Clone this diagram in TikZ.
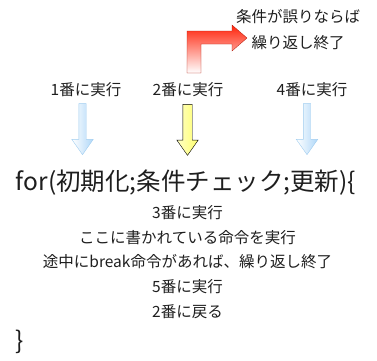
\documentclass[tikz,border=0pt]{standalone}
\usepackage{fontspec}
\setmainfont{Noto Sans CJK JP}
\usepackage{tikz}
\usetikzlibrary{shapes.arrows,positioning}
\definecolor{texteGris}{RGB}{30,30,30}
\definecolor{bleuFleche}{RGB}{175,215,248}
\definecolor{bleuBord}{RGB}{160,205,240}
\definecolor{jauneFleche}{RGB}{255,255,110}
\definecolor{rougeFleche}{RGB}{255,35,10}

\begin{document}
\begin{tikzpicture}[x=1pt,y=-1pt,font=\fontsize{15.5}{18}\selectfont,text=texteGris,
  etiquette/.style={inner sep=0pt},
  fleche/.style={single arrow,shape border rotate=270,inner sep=3.5pt,
                 minimum width=21pt,minimum height=51pt,single arrow tip angle=70,
                 single arrow head extend=7pt},
  flecheBleue/.style={fleche,draw=bleuBord,left color=white,right color=bleuFleche},
  flecheJaune/.style={fleche,inner sep=4.5pt,single arrow head extend=6pt,draw=black,
                      left color=white!60!jauneFleche,right color=jauneFleche}]

  \useasboundingbox (0,0) rectangle (377,360);

  % libelles du haut
  \node[etiquette] (L1) at (86,90) {1番に実行};
  \node[etiquette] (L2) at (188,90) {2番に実行};
  \node[etiquette] (L4) at (312,90) {4番に実行};

  \node[flecheBleue] (F1) at (82.5,126.5) {};
  \node[flecheJaune] (F2) at (187.5,126.5) {};
  \node[flecheBleue] (F4) at (307,126.5) {};

  % condition fausse
  \node[etiquette,align=center,font=\fontsize{15.5}{26}\selectfont] (Fin) at (298,30)
    {条件が誤りならば\\繰り返し終了};
  \coordinate (R0) at (194,73);
  \shade[top color=rougeFleche,middle color=rougeFleche,bottom color=white,
         draw=rougeFleche!70!black,line width=0.3pt]
    (R0) ++(-7,0) -- (187,31) -- (232,31) -- (232,25) -- (247,38) -- (232,51)
    -- (232,44) -- (201,44) -- (201,73) -- cycle;

  % corps de la boucle
  \node[etiquette,font=\fontsize{24.5}{26}\selectfont] (For) at (186,183)
    {for(初期化;条件チェック;更新)\{};
  \node[etiquette,align=center,font=\fontsize{15.5}{24.7}\selectfont] (Corps) at (187.5,262)
    {3番に実行\\ここに書かれている命令を実行\\途中にbreak命令があれば、繰り返し終了\\5番に実行\\2番に戻る};
  \node[etiquette,font=\fontsize{24.5}{26}\selectfont] (Fermer) at (20,342) {\}};
\end{tikzpicture}
\end{document}
